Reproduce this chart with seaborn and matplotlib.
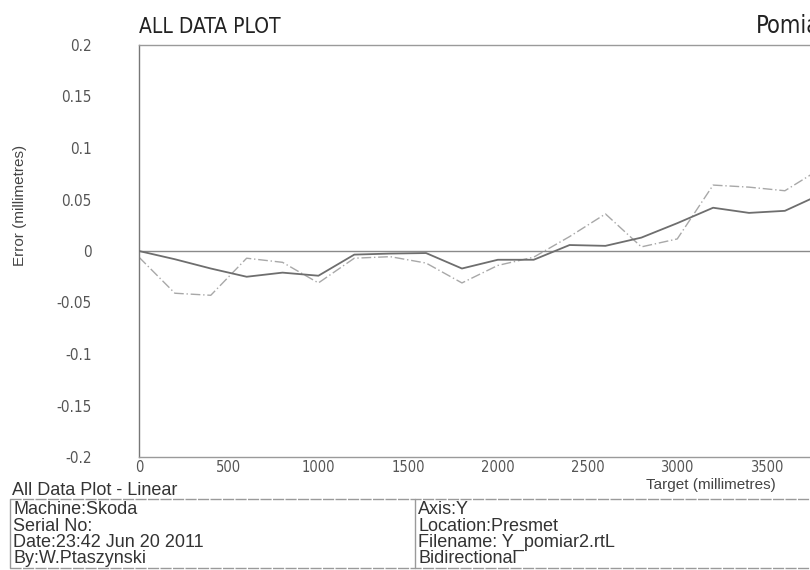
import numpy as np
import pandas as pd
import seaborn as sb
import matplotlib.pyplot as plt
from matplotlib.lines import Line2D

target_mm = [0, 200, 400, 600, 800, 1000, 1200, 1400, 1600, 1800,
             2000, 2200, 2400, 2600, 2800, 3000, 3200, 3400, 3600, 3800]
error_run1 = [0.0, -0.008, -0.017, -0.025, -0.021, -0.024, -0.0035, -0.0025, -0.002, -0.017,
              -0.0085, -0.0085, 0.0058, 0.005, 0.013, 0.027, 0.042, 0.037, 0.039, 0.055]
error_run2 = [-0.006, -0.041, -0.043, -0.007, -0.011, -0.031, -0.007, -0.0055, -0.0117, -0.031,
              -0.014, -0.006, 0.014, 0.036, 0.004, 0.0117, 0.064, 0.062, 0.0585, 0.080]
y_ticks = [0.2, 0.15, 0.1, 0.05, 0, -0.05, -0.1, -0.15, -0.2]
y_tick_labels = ["0.2", "0.15", "0.1", "0.05", "0", "-0.05", "-0.1", "-0.15", "-0.2"]
x_ticks = [0, 500, 1000, 1500, 2000, 2500, 3000, 3500]

info_left = ["Machine:Skoda", "Serial No:", "Date:23:42 Jun 20 2011", "By:W.Ptaszynski"]
info_right = ["Axis:Y", "Location:Presmet", "Filename: Y_pomiar2.rtL", "Bidirectional"]

run_data = pd.DataFrame({"target": target_mm, "run1": error_run1, "run2": error_run2})

sb.set_style("white")
plt.rcParams["font.family"] = ["Liberation Sans", "DejaVu Sans"]

fig = plt.figure(figsize=(8.1, 5.7), dpi=100)
W, H = 810.0, 570.0
ax = fig.add_axes([139 / W, 1 - 457 / H, (W - 139) / W, 412 / H])

ax.axhline(0, color="#8a8a8a", lw=1.0, zorder=1)
sb.lineplot(data=run_data, x="target", y="run2", ax=ax, color="#a8a8a8", lw=1.0,
            linestyle=(0, (7, 2, 1, 2)), zorder=2)
sb.lineplot(data=run_data, x="target", y="run1", ax=ax, color="#6e6e6e", lw=1.3, zorder=3)

ax.set_xlim(0, 3740)
ax.set_ylim(-0.2, 0.2)
ax.set_yticks(y_ticks)
ax.set_yticklabels(y_tick_labels, family="DejaVu Sans", stretch="condensed",
                   fontsize=11, color="#555555")
ax.set_xticks(x_ticks)
ax.set_xticklabels([str(t) for t in x_ticks], family="DejaVu Sans", stretch="condensed",
                   fontsize=10.5, color="#555555")
ax.tick_params(axis="y", direction="in", length=3, color="#888888", pad=34)
ax.tick_params(axis="x", direction="in", length=3, color="#888888", pad=2)
ax.set_xlabel("")
ax.set_ylabel("")

ax.spines["left"].set_color("#777777")
ax.spines["left"].set_linewidth(1.0)
for side in ["top", "bottom"]:
    ax.spines[side].set_color("#9a9a9a")
    ax.spines[side].set_linewidth(1.0)
    ax.spines[side].set_linestyle((0, (8, 1)))
ax.spines["right"].set_visible(False)

# titles and axis labels
fig.text(139 / W, 1 - 33 / H, "ALL DATA PLOT", family="DejaVu Sans", stretch="condensed",
         fontsize=15, color="#222222", va="baseline", ha="left")
fig.text(756 / W, 1 - 33 / H, "Pomiar2", family="DejaVu Sans", stretch="condensed",
         fontsize=17, color="#222222", va="baseline", ha="left")
fig.text(20 / W, 1 - 205 / H, "Error (millimetres)", fontsize=11, color="#444444",
         rotation=90, va="center", ha="center")
fig.text(711 / W, 1 - 485 / H, "Target (millimetres)", fontsize=11, color="#444444",
         va="center", ha="center")

# info block underneath
fig.text(12 / W, 1 - 495 / H, "All Data Plot - Linear", fontsize=13, color="#333333",
         va="baseline", ha="left")
box_color = "#9a9a9a"
fig.add_artist(Line2D([10 / W, 1.0], [1 - 498.5 / H, 1 - 498.5 / H], color=box_color, lw=1,
                      linestyle=(0, (8, 1))))
fig.add_artist(Line2D([10 / W, 1.0], [1 - 567.5 / H, 1 - 567.5 / H], color=box_color, lw=1,
                      linestyle=(0, (8, 1))))
fig.add_artist(Line2D([10 / W, 10 / W], [1 - 498.5 / H, 1 - 567.5 / H], color=box_color, lw=1))
fig.add_artist(Line2D([415 / W, 415 / W], [1 - 498.5 / H, 1 - 567.5 / H], color=box_color, lw=1))

row_baseline = [514, 531, 547, 563]
for y, left_txt, right_txt in zip(row_baseline, info_left, info_right):
    fig.text(13 / W, 1 - y / H, left_txt, fontsize=13, color="#333333", va="baseline", ha="left")
    fig.text(418 / W, 1 - y / H, right_txt, fontsize=13, color="#333333", va="baseline", ha="left")

fig.savefig("out.png", dpi=100)
